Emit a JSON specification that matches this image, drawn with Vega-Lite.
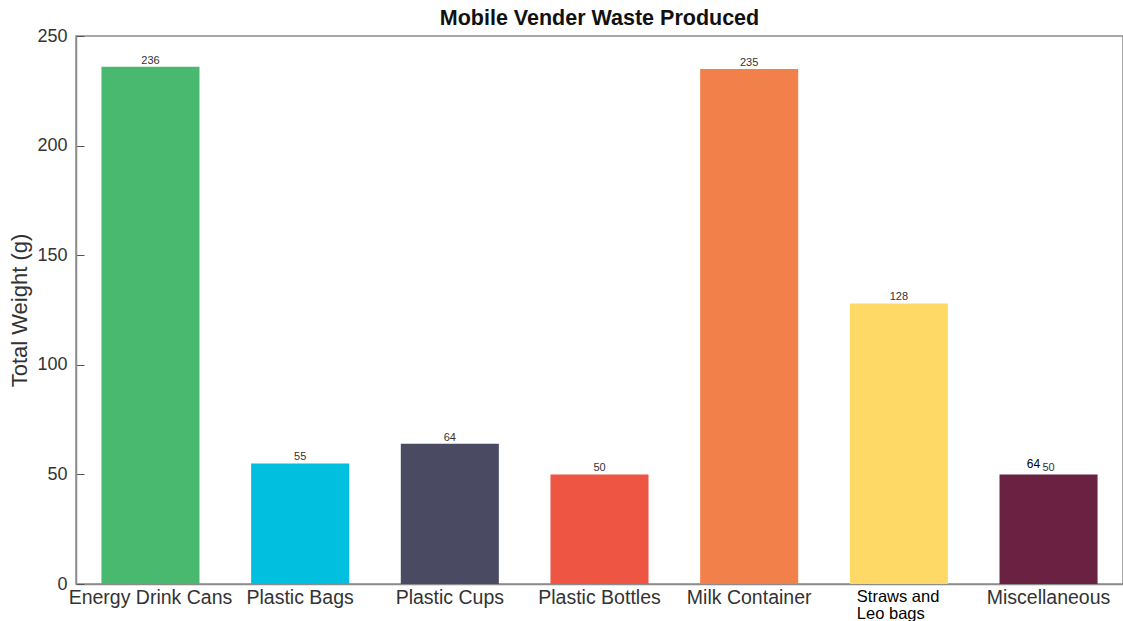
{
  "$schema": "https://vega.github.io/schema/vega-lite/v6.json",
  "width": 1047,
  "height": 548,
  "autosize": {"type": "none"},
  "padding": {"left": 76, "top": 36, "right": 0, "bottom": 37},
  "background": "white",
  "config": {
    "font": "Liberation Sans",
    "view": {"stroke": "#8c8c8c", "strokeWidth": 1.5}
  },
  "title": {
    "text": "Mobile Vender Waste Produced",
    "fontSize": 21.5,
    "fontWeight": "bold",
    "color": "#111111",
    "font": "Liberation Sans",
    "offset": -2,
    "anchor": "middle"
  },
  "data": {
    "values": [
      {"category": "Energy Drink Cans", "weight": 236, "note": ""},
      {"category": "Plastic Bags", "weight": 55, "note": ""},
      {"category": "Plastic Cups", "weight": 64, "note": ""},
      {"category": "Plastic Bottles", "weight": 50, "note": ""},
      {"category": "Milk Container", "weight": 235, "note": ""},
      {"category": "Straws and Leo bags", "weight": 128, "note": ""},
      {"category": "Miscellaneous", "weight": 50, "note": "64"}
    ]
  },
  "encoding": {
    "x": {
      "field": "category",
      "type": "nominal",
      "sort": null,
      "scale": {"paddingInner": 0.345, "paddingOuter": 0.17},
      "axis": {
        "title": null,
        "labelAngle": 0,
        "labelFontSize": {"condition": {"test": "datum.value == 'Straws and Leo bags'", "value": 16.5}, "value": 19.5},
        "labelColor": {"condition": {"test": "datum.value == 'Straws and Leo bags'", "value": "#000000"}, "value": "#333333"},
        "labelAlign": {"condition": {"test": "datum.value == 'Straws and Leo bags'", "value": "left"}, "value": "center"},
        "labelOffset": {"condition": {"test": "datum.value == 'Straws and Leo bags'", "value": -42}, "value": 0},
        "labelExpr": "datum.value == 'Straws and Leo bags' ? ['Straws and', 'Leo bags'] : datum.value",
        "labelLineHeight": 17,
        "labelPadding": 10,
        "labelOverlap": false,
        "tickSize": -6,
        "tickColor": "#555555",
        "domainColor": "#8c8c8c",
        "domainWidth": 1.5
      }
    },
    "y": {
      "field": "weight",
      "type": "quantitative",
      "scale": {"domain": [0, 250], "nice": false},
      "axis": {
        "title": "Total Weight (g)",
        "titleFontSize": 22,
        "titleFontWeight": "normal",
        "titleColor": "#333333",
        "titlePadding": 5,
        "values": [0, 50, 100, 150, 200, 250],
        "labelFontSize": 18,
        "labelColor": "#333333",
        "labelPadding": 17,
        "tickSize": -8,
        "tickColor": "#555555",
        "domainColor": "#8c8c8c",
        "domainWidth": 1.5,
        "grid": false
      }
    }
  },
  "layer": [
    {
      "mark": {"type": "bar"},
      "encoding": {
        "color": {
          "field": "category",
          "type": "nominal",
          "sort": null,
          "legend": null,
          "scale": {
            "domain": ["Energy Drink Cans", "Plastic Bags", "Plastic Cups", "Plastic Bottles", "Milk Container", "Straws and Leo bags", "Miscellaneous"],
            "range": ["#48B96F", "#00BFDF", "#4A4A62", "#EF5543", "#F2804A", "#FFD966", "#6B2142"]
          }
        }
      }
    },
    {
      "mark": {"type": "text", "baseline": "bottom", "dy": -1, "fontSize": 11, "color": "#333333"},
      "encoding": {"text": {"field": "weight", "type": "quantitative"}}
    },
    {
      "mark": {"type": "text", "baseline": "bottom", "dy": -3, "dx": -15, "fontSize": 12, "color": "#000000"},
      "encoding": {"text": {"field": "note", "type": "nominal"}}
    }
  ]
}
